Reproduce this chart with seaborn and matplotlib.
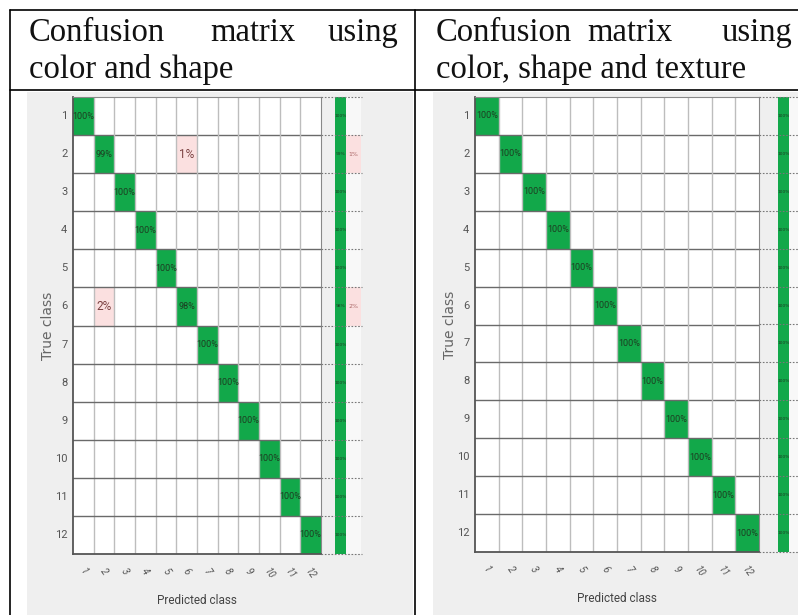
import numpy as np
import pandas as pd
import matplotlib
matplotlib.use("Agg")
import matplotlib.pyplot as plt
from matplotlib.colors import ListedColormap
from matplotlib.lines import Line2D
import seaborn as sns

sns.set_theme(style="white")

classes = [str(i) for i in range(1, 13)]
titles_line1 = [["Confusion", "matrix", "using"], ["Confusion", "matrix", "using"]]
titles_line2 = ["color and shape", "color, shape and texture"]
x_label = "Predicted class"
y_label = "True class"

# off-diagonal errors (row, col, percent), 1-based
errors_left = [(2, 6, 1), (6, 2, 2)]
errors_right = []

W, H = 798, 615
fig = plt.figure(figsize=(W / 100, H / 100), dpi=100)
fig.patch.set_facecolor("white")

def fx(x):
    return x / W

def fy(y):
    return 1 - y / H

def hline(x0, x1, y, **kw):
    fig.add_artist(Line2D([fx(x0), fx(x1)], [fy(y), fy(y)], transform=fig.transFigure, **kw))

def vline(x, y0, y1, **kw):
    fig.add_artist(Line2D([fx(x), fx(x)], [fy(y0), fy(y1)], transform=fig.transFigure, **kw))

GREEN = "#12a84a"
PINK = "#fbe0e0"
BG = "#efefef"
CMAP = ListedColormap(["white", PINK, GREEN])

def build(errors):
    pct = np.zeros((12, 12))
    for i in range(12):
        pct[i, i] = 100
    for r, c, p in errors:
        pct[r - 1, c - 1] = p
        pct[r - 1, r - 1] -= p
    return pct

def panel(bg_x0, bg_x1, mx0, mx1, my0, my1, sx0, sx1, sx2, dot_x1, errors, ann_fs):
    bg = fig.add_axes([fx(bg_x0), fy(H), fx(bg_x1 - bg_x0), fy(92) - fy(H)])
    bg.set_facecolor(BG)
    bg.set_xticks([]); bg.set_yticks([])
    for s in bg.spines.values():
        s.set_visible(False)
    bg.set_zorder(0)

    pct = build(errors)
    cat = np.where(np.eye(12, dtype=bool), 2, np.where(pct > 0, 1, 0))
    labels = np.where(pct > 0, np.vectorize(lambda v: f"{int(v)}%")(pct), "")
    df = pd.DataFrame(cat, index=classes, columns=classes)

    ax = fig.add_axes([fx(mx0), fy(my1), fx(mx1 - mx0), fy(my0) - fy(my1)])
    ax.set_zorder(2)
    sns.heatmap(df, ax=ax, cmap=CMAP, vmin=0, vmax=2,
                cbar=False, annot=labels, fmt="",
                annot_kws={"fontsize": ann_fs, "color": "#1d3d22", "family": "Roboto"})
    for t in ax.texts:
        if t.get_text() in ("1%", "2%"):
            t.set_fontsize(8.5)
            t.set_color("#7a4040")
    for k in range(1, 12):
        ax.axvline(k, color="#bdbdbd", lw=1.0)
        ax.axhline(k, color="#6a6a6a", lw=1.0)
    for s in ["left", "bottom"]:
        ax.spines[s].set_visible(True)
        ax.spines[s].set_color("#555555")
        ax.spines[s].set_linewidth(1.3)
    for s in ["right", "top"]:
        ax.spines[s].set_visible(True)
        ax.spines[s].set_color("#888888")
        ax.spines[s].set_linewidth(0.8)
    ax.set_yticklabels(classes, rotation=0, fontsize=8, color="#555555", family="Roboto")
    ax.set_xticklabels(classes, rotation=-55, fontsize=7, color="#555555",
                       family="Roboto", style="italic")
    ax.tick_params(axis="y", length=0, pad=4)
    ax.tick_params(axis="x", length=0, pad=9)
    ax.set_xlabel(x_label, fontsize=8.5, color="#444444", family="Roboto", labelpad=9)
    ax.set_ylabel(y_label, fontsize=10, color="#666666", family="DejaVu Sans", labelpad=0)

    # summary columns
    rate = np.diag(pct)
    miss = 100 - rate
    gdf = pd.DataFrame({"a": np.full(12, 2)}, index=classes)
    gax = fig.add_axes([fx(sx0), fy(my1), fx(sx1 - sx0), fy(my0) - fy(my1)])
    gax.set_zorder(2)
    sns.heatmap(gdf, ax=gax, cmap=CMAP, vmin=0, vmax=2, cbar=False,
                annot=np.array([[f"{int(v)}%"] for v in rate]), fmt="",
                annot_kws={"fontsize": 3.2, "color": "#1d3d22"})
    gax.set_xticks([]); gax.set_yticks([]); gax.set_xlabel(""); gax.set_ylabel("")

    mdf = pd.DataFrame({"b": np.where(miss > 0, 1, 0)}, index=classes)
    max_ = fig.add_axes([fx(sx1), fy(my1), fx(sx2 - sx1), fy(my0) - fy(my1)])
    max_.set_zorder(2)
    sns.heatmap(mdf, ax=max_, cmap=ListedColormap(["#f8f8f8", PINK, GREEN]), vmin=0, vmax=2,
                cbar=False, annot=np.array([[f"{int(v)}%" if v > 0 else ""] for v in miss]),
                fmt="", annot_kws={"fontsize": 4.5, "color": "#aa6666"})
    max_.set_xticks([]); max_.set_yticks([]); max_.set_xlabel(""); max_.set_ylabel("")

    cell_h = (my1 - my0) / 12
    for k in range(0, 13):
        yy = my0 + k * cell_h
        hline(mx1, dot_x1, yy, color="#777777", lw=0.8, ls=(0, (1.5, 1.5)), zorder=5)

# left panel
panel(27, 413, 73, 321, 97, 554, 335, 346, 361, 362, errors_left, 6.5)
# right panel
panel(433, 798, 475, 759, 97, 552, 778, 789, 800, 798, errors_right, 6.5)

# table lines
hline(10, 798, 10, color="black", lw=1.2)
hline(10, 798, 90, color="black", lw=1.2)
vline(10, 10, 615, color="black", lw=1.2)
vline(415, 10, 615, color="black", lw=1.2)

# header text (justified first line)
serif = "Liberation Serif"
kw = dict(va="baseline", fontsize=23.5, family=serif, color="#111111")
for (x0, xm, x1), words, line2 in zip([(29, 253, 398), (436, 630, 792)], titles_line1, titles_line2):
    fig.text(fx(x0), fy(41), words[0], ha="left", **kw)
    fig.text(fx(xm), fy(41), words[1], ha="center", **kw)
    fig.text(fx(x1), fy(41), words[2], ha="right", **kw)
    fig.text(fx(x0), fy(78), line2, ha="left", **kw)

fig.savefig("out.png", dpi=100)
